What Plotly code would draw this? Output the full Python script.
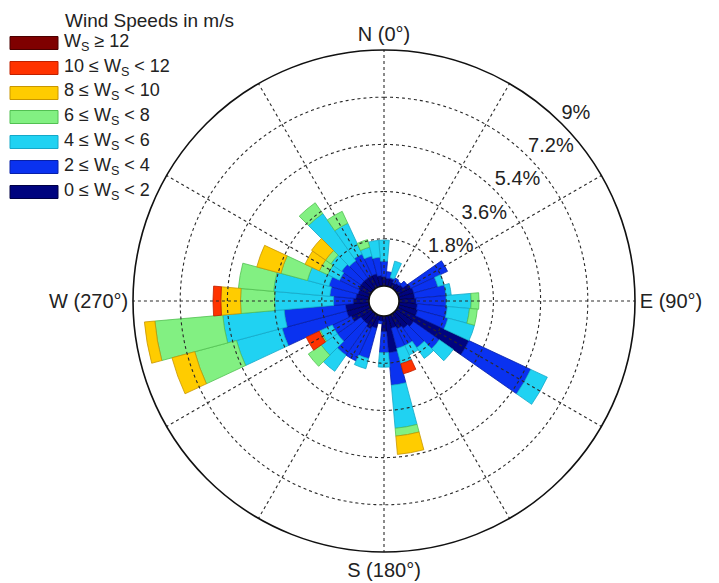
import numpy as np
import plotly.graph_objects as go

# ---------------- data ----------------
directions = list(range(0, 360, 10))          # direction bins (deg from N)
speed_labels = ["0 ≤ W<sub>S</sub> < 2", "2 ≤ W<sub>S</sub> < 4", "4 ≤ W<sub>S</sub> < 6",
                "6 ≤ W<sub>S</sub> < 8", "8 ≤ W<sub>S</sub> < 10", "10 ≤ W<sub>S</sub> < 12",
                "W<sub>S</sub> ≥ 12"]
legend_title = "Wind Speeds in m/s"

# frequency (%) per direction bin, one list per speed class
ws_0_2 = [0.35, 0.30, 0.30, 0.20, 0.25, 0.30, 0.55, 0.60, 0.60, 0.65, 0.70, 0.75,
          3.00, 0.80, 0.70, 0.60, 0.50, 1.40, 0.60, 0.20, 0.50, 0.60, 0.50, 0.50,
          0.80, 0.90, 0.90, 0.60, 0.50, 0.45, 0.50, 0.50, 0.50, 0.50, 0.50, 0.40]
ws_2_4 = [0.60, 0.25, 0.05, 0.20, 0.10, 0.20, 1.55, 0.95, 1.20, 1.15, 1.15, 1.20,
          2.60, 1.20, 0.90, 0.70, 0.80, 1.25, 0.80, 0.10, 1.20, 1.35, 1.45, 1.10,
          0.80, 2.55, 2.35, 0.75, 1.00, 1.15, 0.80, 0.90, 0.80, 0.90, 0.70, 0.70]
ws_4_6 = [0.80, 0.00, 0.65, 0.00, 0.00, 0.00, 0.00, 0.25, 0.20, 0.95, 0.85, 1.05,
          0.70, 0.65, 0.50, 0.40, 0.60, 1.65, 0.55, 0.00, 0.40, 0.00, 0.75, 0.75,
          0.50, 1.80, 2.35, 2.25, 2.15, 0.85, 0.50, 0.50, 2.20, 1.30, 0.35, 0.65]
ws_6_8 = [0.00, 0.00, 0.00, 0.00, 0.00, 0.00, 0.00, 0.00, 0.00, 0.30, 0.30, 0.00,
          0.00, 0.00, 0.00, 0.00, 0.00, 0.30, 0.00, 0.00, 0.00, 0.00, 0.00, 0.60,
          0.05, 1.65, 2.60, 1.30, 1.35, 1.05, 0.35, 0.25, 0.50, 0.50, 0.30, 0.00]
ws_8_10 = [0.00, 0.00, 0.00, 0.00, 0.00, 0.00, 0.00, 0.00, 0.00, 0.00, 0.00, 0.00,
           0.00, 0.00, 0.00, 0.00, 0.00, 0.70, 0.00, 0.00, 0.00, 0.00, 0.00, 0.00,
           0.00, 0.90, 0.40, 0.75, 0.00, 0.95, 0.60, 0.65, 0.00, 0.00, 0.00, 0.00]
ws_10_12 = [0.00, 0.00, 0.00, 0.00, 0.00, 0.00, 0.00, 0.00, 0.00, 0.00, 0.00, 0.00,
            0.00, 0.00, 0.00, 0.00, 0.40, 0.00, 0.00, 0.00, 0.00, 0.00, 0.00, 0.00,
            0.55, 0.00, 0.00, 0.30, 0.00, 0.00, 0.00, 0.00, 0.00, 0.00, 0.00, 0.00]
ws_12_up = [0.0] * 36

radial_ticks = [1.8, 3.6, 5.4, 7.2, 9.0]
radial_tick_text = ["1.8%", "3.6%", "5.4%", "7.2%", "9%"]
grid_angles = list(range(0, 360, 30))
angular_ticks = [0, 90, 180, 270]
angular_tick_text = ["N (0°)", "E (90°)", "S (180°)", "W (270°)"]

# ---------------- style ----------------
series = [ws_0_2, ws_2_4, ws_4_6, ws_6_8, ws_8_10, ws_10_12, ws_12_up]
fill_colors = ["#00047F", "#0A32F0", "#20D2F2", "#82F082", "#FFCC00", "#FF3300", "#7F0000"]
edge_colors = ["#000045", "#0820A8", "#14A8C8", "#52C052", "#C89600", "#C02000", "#4A0000"]
FONT = "Liberation Sans, Arial, Helvetica, sans-serif"
GRID = "#2a2a2a"

fig = go.Figure()
for vals, lab, fc, ec in zip(series, speed_labels, fill_colors, edge_colors):
    fig.add_trace(go.Barpolar(
        r=vals, theta=directions, width=10, name=lab,
        marker=dict(color=fc, line=dict(color=ec, width=0.8)),
        showlegend=False, hoverinfo="skip"))

# dotted grid drawn above the bars (as in the reference)
ring_theta = np.linspace(0, 360, 721)
for rv in radial_ticks[:-1]:
    fig.add_trace(go.Scatterpolar(r=[rv] * len(ring_theta), theta=ring_theta, mode="lines",
                                  line=dict(color=GRID, width=1.1, dash="dot"),
                                  showlegend=False, hoverinfo="skip"))
for th in grid_angles:
    fig.add_trace(go.Scatterpolar(r=[0, radial_ticks[-1]], theta=[th, th], mode="lines",
                                  line=dict(color=GRID, width=1.1, dash="dot"),
                                  showlegend=False, hoverinfo="skip"))

# radial tick labels, set just outside each ring
fig.add_trace(go.Scatterpolar(
    r=radial_ticks, theta=[45] * len(radial_ticks),
    mode="text", text=radial_tick_text, textposition="top right", cliponaxis=False,
    textfont=dict(size=20, color="#222", family=FONT),
    showlegend=False, hoverinfo="skip"))

W, H = 719, 583
cx, cy, R = 384, 301, 251
fig.update_layout(
    width=W, height=H, margin=dict(l=0, r=0, t=0, b=0),
    paper_bgcolor="white", plot_bgcolor="white", showlegend=False,
    font=dict(family=FONT, color="#222"),
    polar=dict(
        domain=dict(x=[(cx - R) / W, (cx + R) / W], y=[(H - cy - R) / H, (H - cy + R) / H]),
        hole=0.06, bgcolor="white", barmode="stack",
        radialaxis=dict(range=[0, 9], tickvals=radial_ticks, showticklabels=False,
                        ticks="", showline=False, showgrid=False),
        angularaxis=dict(rotation=90, direction="clockwise", tickvals=angular_ticks,
                         ticktext=angular_tick_text, ticks="", ticklen=0, showgrid=False,
                         showline=True, linecolor="#111", linewidth=1.6,
                         tickfont=dict(size=20, color="#222", family=FONT)),
    ),
)

# legend (wide swatches like the reference)
shapes, annotations = [], []
annotations.append(dict(x=63 / W, y=1 - 20 / H, xref="paper", yref="paper", text=legend_title,
                        showarrow=False, xanchor="left", yanchor="middle",
                        font=dict(size=19, color="#222", family=FONT)))
row_y = [192, 167, 142, 117, 93, 68, 43]  # from bottom class (0-2) to top (>=12)
for lab, fc, ec, yy in zip(speed_labels, fill_colors, edge_colors, row_y):
    shapes.append(dict(type="rect", xref="paper", yref="paper",
                       x0=10 / W, x1=58 / W, y0=1 - (yy + 6.5) / H, y1=1 - (yy - 6.5) / H,
                       fillcolor=fc, line=dict(color=ec, width=1)))
    annotations.append(dict(x=62 / W, y=1 - (yy - 1) / H, xref="paper", yref="paper", text=lab,
                            showarrow=False, xanchor="left", yanchor="middle",
                            font=dict(size=18, color="#222", family=FONT)))
fig.update_layout(shapes=shapes, annotations=annotations)

fig.write_html("out.html")
